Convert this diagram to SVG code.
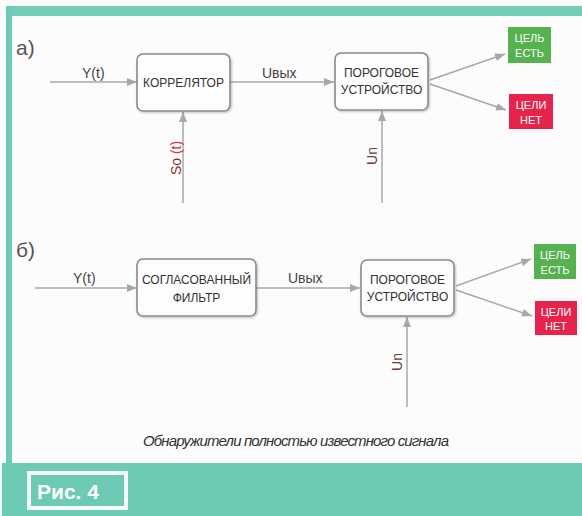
<svg xmlns="http://www.w3.org/2000/svg" width="582" height="516" viewBox="0 0 582 516">
<defs>
<marker id="ah" viewBox="0 0 10 8" refX="10" refY="4" markerWidth="10" markerHeight="8" markerUnits="userSpaceOnUse" orient="auto">
<path d="M0,0 L10,4 L0,8 Z" fill="#a8a8a8"/>
</marker>
<filter id="sh" x="-10%" y="-10%" width="130%" height="130%">
<feDropShadow dx="1" dy="1" stdDeviation="1" flood-color="#000" flood-opacity="0.25"/>
</filter>
</defs>
<style>
.box{fill:#fdfdfd;stroke:#8a8a8a;stroke-width:1.6}
.bt{font-family:"Liberation Sans","DejaVu Sans",sans-serif;font-size:12px;fill:#333;text-anchor:middle}
.lbl{font-family:"Liberation Sans","DejaVu Sans",sans-serif;font-size:14px;fill:#444}
.sec{font-family:"Liberation Sans","DejaVu Sans",sans-serif;font-size:21px;fill:#555}
.ln{stroke:#a8a8a8;stroke-width:1.5;fill:none}
.tag{font-family:"Liberation Sans","DejaVu Sans",sans-serif;font-size:11px;fill:#fff;text-anchor:middle}
</style>
<rect x="0" y="0" width="582" height="516" fill="#fcfcfc"/>
<rect x="6" y="6" width="576" height="10" fill="#72cdb9"/>
<rect x="6" y="6" width="6" height="458" fill="#6ccab5"/>
<rect x="2" y="463" width="580" height="53" fill="#6ccab5"/>
<g id="fig-label">
<rect x="29" y="473" width="97" height="35" fill="none" stroke="#f4fbf9" stroke-width="4"/>
<text x="37" y="499" font-family="'Liberation Sans',Arial,sans-serif" font-size="21" font-weight="bold" fill="#fff">Рис. 4</text>
</g>
<text x="143" y="446" font-family="'Liberation Sans',Arial,sans-serif" font-size="15" font-style="italic" fill="#333" textLength="306">Обнаружители полностью известного сигнала</text>
<text class="sec" x="16" y="55">а)</text>
<text class="sec" x="16" y="257">б)</text>
<g id="connectors">
<line class="ln" x1="50" y1="82" x2="137" y2="82" marker-end="url(#ah)"/>
<line class="ln" x1="230" y1="82" x2="334" y2="82" marker-end="url(#ah)"/>
<line class="ln" x1="183" y1="203" x2="183" y2="112" marker-end="url(#ah)"/>
<line class="ln" x1="382" y1="203" x2="382" y2="111" marker-end="url(#ah)"/>
<line class="ln" x1="430" y1="80" x2="505" y2="54" marker-end="url(#ah)"/>
<line class="ln" x1="430" y1="84" x2="506" y2="110" marker-end="url(#ah)"/>
<line class="ln" x1="35" y1="288" x2="137" y2="288" marker-end="url(#ah)"/>
<line class="ln" x1="256" y1="288" x2="360" y2="288" marker-end="url(#ah)"/>
<line class="ln" x1="407" y1="407" x2="407" y2="317" marker-end="url(#ah)"/>
<line class="ln" x1="456" y1="286" x2="531" y2="259" marker-end="url(#ah)"/>
<line class="ln" x1="456" y1="290" x2="532" y2="316" marker-end="url(#ah)"/>
<text class="lbl" x="82" y="78">Y(t)</text>
<text class="lbl" x="262" y="78">Uвых</text>
<text class="lbl" x="73" y="283">Y(t)</text>
<text class="lbl" x="288" y="283">Uвых</text>
<text class="lbl" transform="translate(181,158) rotate(-90)" text-anchor="middle" style="font-size:14px"><tspan fill="#8a2b2b">So</tspan> <tspan fill="#c8373a">(t)</tspan></text>
<text class="lbl" transform="translate(377,156) rotate(-90)" text-anchor="middle" style="font-size:14px;fill:#6b3a3a">Un</text>
<text class="lbl" transform="translate(402,362) rotate(-90)" text-anchor="middle" style="font-size:14px;fill:#6b3a3a">Un</text>
</g>
<g id="correlator">
<rect class="box" x="137" y="54" width="93" height="57" rx="6" filter="url(#sh)"/>
<text class="bt" x="183.5" y="87">КОРРЕЛЯТОР</text>
</g>
<g id="threshold-a">
<rect class="box" x="335" y="53" width="93" height="57" rx="6" filter="url(#sh)"/>
<text class="bt" x="381.5" y="77">ПОРОГОВОЕ</text>
<text class="bt" x="381.5" y="94">УСТРОЙСТВО</text>
</g>
<g id="target-yes-a">
<rect x="508" y="27" width="43" height="36" fill="#55b24f"/>
<text class="tag" x="529.5" y="42">ЦЕЛЬ</text>
<text class="tag" x="529.5" y="57">ЕСТЬ</text>
</g>
<g id="target-no-a">
<rect x="509" y="94" width="44" height="35" fill="#e8234b"/>
<text class="tag" x="531" y="109">ЦЕЛИ</text>
<text class="tag" x="531" y="124">НЕТ</text>
</g>
<g id="matched-filter">
<rect class="box" x="137" y="259" width="119" height="57" rx="6" filter="url(#sh)"/>
<text class="bt" x="196.5" y="284">СОГЛАСОВАННЫЙ</text>
<text class="bt" x="196.5" y="302">ФИЛЬТР</text>
</g>
<g id="threshold-b">
<rect class="box" x="361" y="260" width="93" height="56" rx="6" filter="url(#sh)"/>
<text class="bt" x="407.5" y="284">ПОРОГОВОЕ</text>
<text class="bt" x="407.5" y="301">УСТРОЙСТВО</text>
</g>
<g id="target-yes-b">
<rect x="534" y="244" width="42" height="35" fill="#55b24f"/>
<text class="tag" x="555" y="259">ЦЕЛЬ</text>
<text class="tag" x="555" y="274">ЕСТЬ</text>
</g>
<g id="target-no-b">
<rect x="535" y="301" width="42" height="34" fill="#e8234b"/>
<text class="tag" x="556" y="316">ЦЕЛИ</text>
<text class="tag" x="556" y="330">НЕТ</text>
</g>
</svg>
